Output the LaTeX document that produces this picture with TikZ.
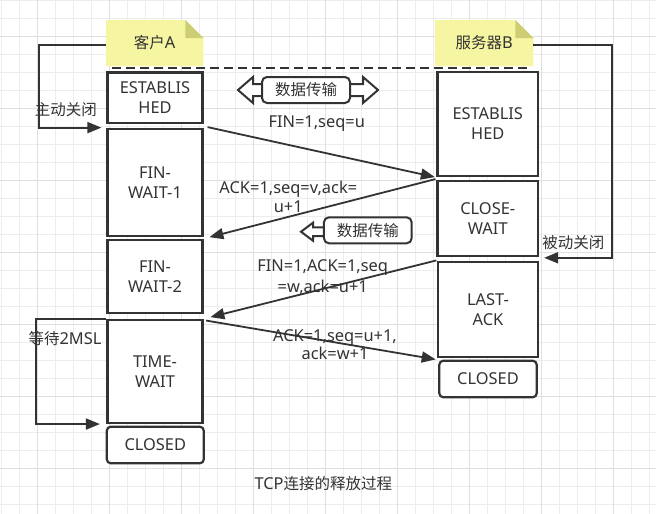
\documentclass[tikz,border=0pt]{standalone}
\usepackage{fontspec}
\setmainfont{Noto Sans}
\newfontfamily\cjk{Noto Sans CJK SC}[Scale=0.945]
\usetikzlibrary{arrows.meta}
\definecolor{ink}{HTML}{333333}
\definecolor{gridminor}{HTML}{EDEDED}
\definecolor{gridmajor}{HTML}{DFDFDF}
\definecolor{notefill}{HTML}{F6F6A2}
\definecolor{notefold}{HTML}{CDCD74}
\newcommand\myfs{\fontsize{16.4}{20}\selectfont}
\begin{document}
\begin{tikzpicture}[x=1pt,y=-1pt,
  every node/.style={text=ink,font=\myfs,inner sep=0pt},
  state/.style={draw=ink,line width=2.2pt,fill=white,align=center,minimum width=95pt},
  endstate/.style={state,rounded corners=4pt},
  notebox/.style={minimum width=97pt,minimum height=46pt},
  msg/.style={draw=ink,line width=1.8pt,-{Triangle[length=14pt,width=11pt]}},
  lbl/.style={align=center},
  tagbox/.style={draw=ink,line width=2pt,fill=white,rounded corners=5pt,minimum width=88pt,minimum height=26pt},
  blockarrow/.style={draw=ink,line width=2pt,fill=white},
  gridmin/.style={draw=gridminor,line width=1pt},
  gridmaj/.style={draw=gridmajor,line width=1pt}]
\useasboundingbox (0,0) rectangle (656,514);
\fill[white] (0,0) rectangle (656,514);
% grid
\foreach \k in {0,...,36} \draw[gridmin] ({1.3+18*\k},0) -- ({1.3+18*\k},514);
\foreach \k in {0,...,28} \draw[gridmin] (0,{0.3+18*\k}) -- (656,{0.3+18*\k});
\foreach \k in {2,6,...,34} \draw[gridmaj] ({1.3+18*\k},0) -- ({1.3+18*\k},514);
\foreach \k in {2,6,...,26} \draw[gridmaj] (0,{0.3+18*\k}) -- (656,{0.3+18*\k});
% notes
\fill[notefill] (106,20) -- (185.3,20) -- (203.3,38) -- (203.3,66) -- (106,66) -- cycle;
\fill[notefold] (185.3,20) -- (203.3,38) -- (185.3,38) -- cycle;
\fill[notefill] (435,20) -- (515.3,20) -- (533.3,38) -- (533.3,66) -- (435,66) -- cycle;
\fill[notefold] (515.3,20) -- (533.3,38) -- (515.3,38) -- cycle;
\node[notebox] (nA) at (154.7,43) {{\cjk 客户}A};
\node[notebox] (nB) at (484.2,43) {{\cjk 服务器}B};
% dashed link between notes
\draw[ink,line width=2pt,dash pattern=on 9pt off 5pt] ([shift={(6,2)}]nA.south west) -- ([shift={(-3.3,2)}]nB.south east);
% client states
\node[state,minimum height=50.5pt] (aEst) at (155,97.75) {ESTABLIS\\HED};
\node[state,minimum height=106.7pt] (aFw1) at (155,182.7) {FIN-\\WAIT-1};
\node[state,minimum height=73.3pt] (aFw2) at (155,276.7) {FIN-\\WAIT-2};
\node[state,minimum height=102.7pt] (aTw) at (155,371.3) {TIME-\\WAIT};
\node[endstate,minimum width=97pt,minimum height=36.6pt] (aCl) at (155.3,445) {CLOSED};
% server states
\node[state,minimum width=100.5pt,minimum height=104.3pt] (bEst) at (487.75,123.85) {ESTABLIS\\HED};
\node[state,minimum width=100.5pt,minimum height=75.3pt] (bCw) at (487.75,218.35) {CLOSE-\\WAIT};
\node[state,minimum width=99.4pt,minimum height=95.6pt] (bLa) at (488,309.5) {LAST-\\ACK};
\node[endstate,minimum width=97.4pt,minimum height=36.6pt] (bCl) at (488,379) {CLOSED};
% block arrows with tags
\draw[blockarrow] (238,90) -- (253,77) -- (253,84) -- (363,84) -- (363,77) -- (378,90) -- (363,103) -- (363,96) -- (253,96) -- (253,103) -- cycle;
\node[tagbox] (dt1) at (306,90) {{\cjk 数据传输}};
\draw[blockarrow] (301,231.7) -- (313,222.7) -- (313,227.3) -- (326,227.3) -- (326,236) -- (313,236) -- (313,240.7) -- cycle;
\node[tagbox,minimum width=87.7pt] (dt2) at (367.8,230.3) {{\cjk 数据传输}};
% loops
\coordinate (tipA) at ([shift={(-5,3.5)}]aEst.south west);
\draw[msg] ([shift={(0,2)}]nA.west) -- ++(-66.7,0) |- (tipA);
\node (lA) at (65.8,110) {{\cjk 主动关闭}};
\coordinate (tipB) at ([shift={(5,0.7)}]bCw.south east);
\draw[msg] ([shift={(0,2)}]nB.east) -- ++(79.4,0) |- (tipB);
\node (lB) at (573.3,242.7) {{\cjk 被动关闭}};
\coordinate (tipC) at ([shift={(-6.5,0.3)}]aTw.south west);
\draw[msg] (aTw.north west) -- ++(-70.8,0) |- (tipC);
\node (lC) at (65,338.3) {{\cjk 等待}2MSL};
% messages
\draw[msg] ([shift={(4,3)}]aEst.south east) -- ([shift={(-1.5,0)}]bEst.south west);
\node[lbl] (m1) at (316.7,124) {FIN=1,seq=u};
\draw[msg] ([shift={(-1,-0.5)}]bCw.north west) -- ([shift={(5.8,0)}]aFw1.south east);
\node[lbl,font={\fontsize{16.4}{19}\selectfont}] (m2) at (288.3,197) {ACK=1,seq=v,ack=\\u+1};
\draw[msg] ([shift={(0,3.3)}]bCw.south west) -- ([shift={(6.8,2.7)}]aFw2.south east);
\node[lbl,font={\fontsize{16.4}{20.5}\selectfont}] (m3) at (322.7,277.3) {FIN=1,ACK=1,seq\\=w,ack=u+1};
\draw[msg] ([shift={(2.5,1.7)}]aTw.north east) -- ([shift={(-1.5,1)}]bLa.south west);
\node[lbl,font={\fontsize{16.4}{17.5}\selectfont}] (m4) at (335,344.5) {ACK=1,seq=u+1,\\ack=w+1};
% caption
\node (cap) at (323.3,484) {TCP{\cjk 连接的释放过程}};
\end{tikzpicture}
\end{document}
